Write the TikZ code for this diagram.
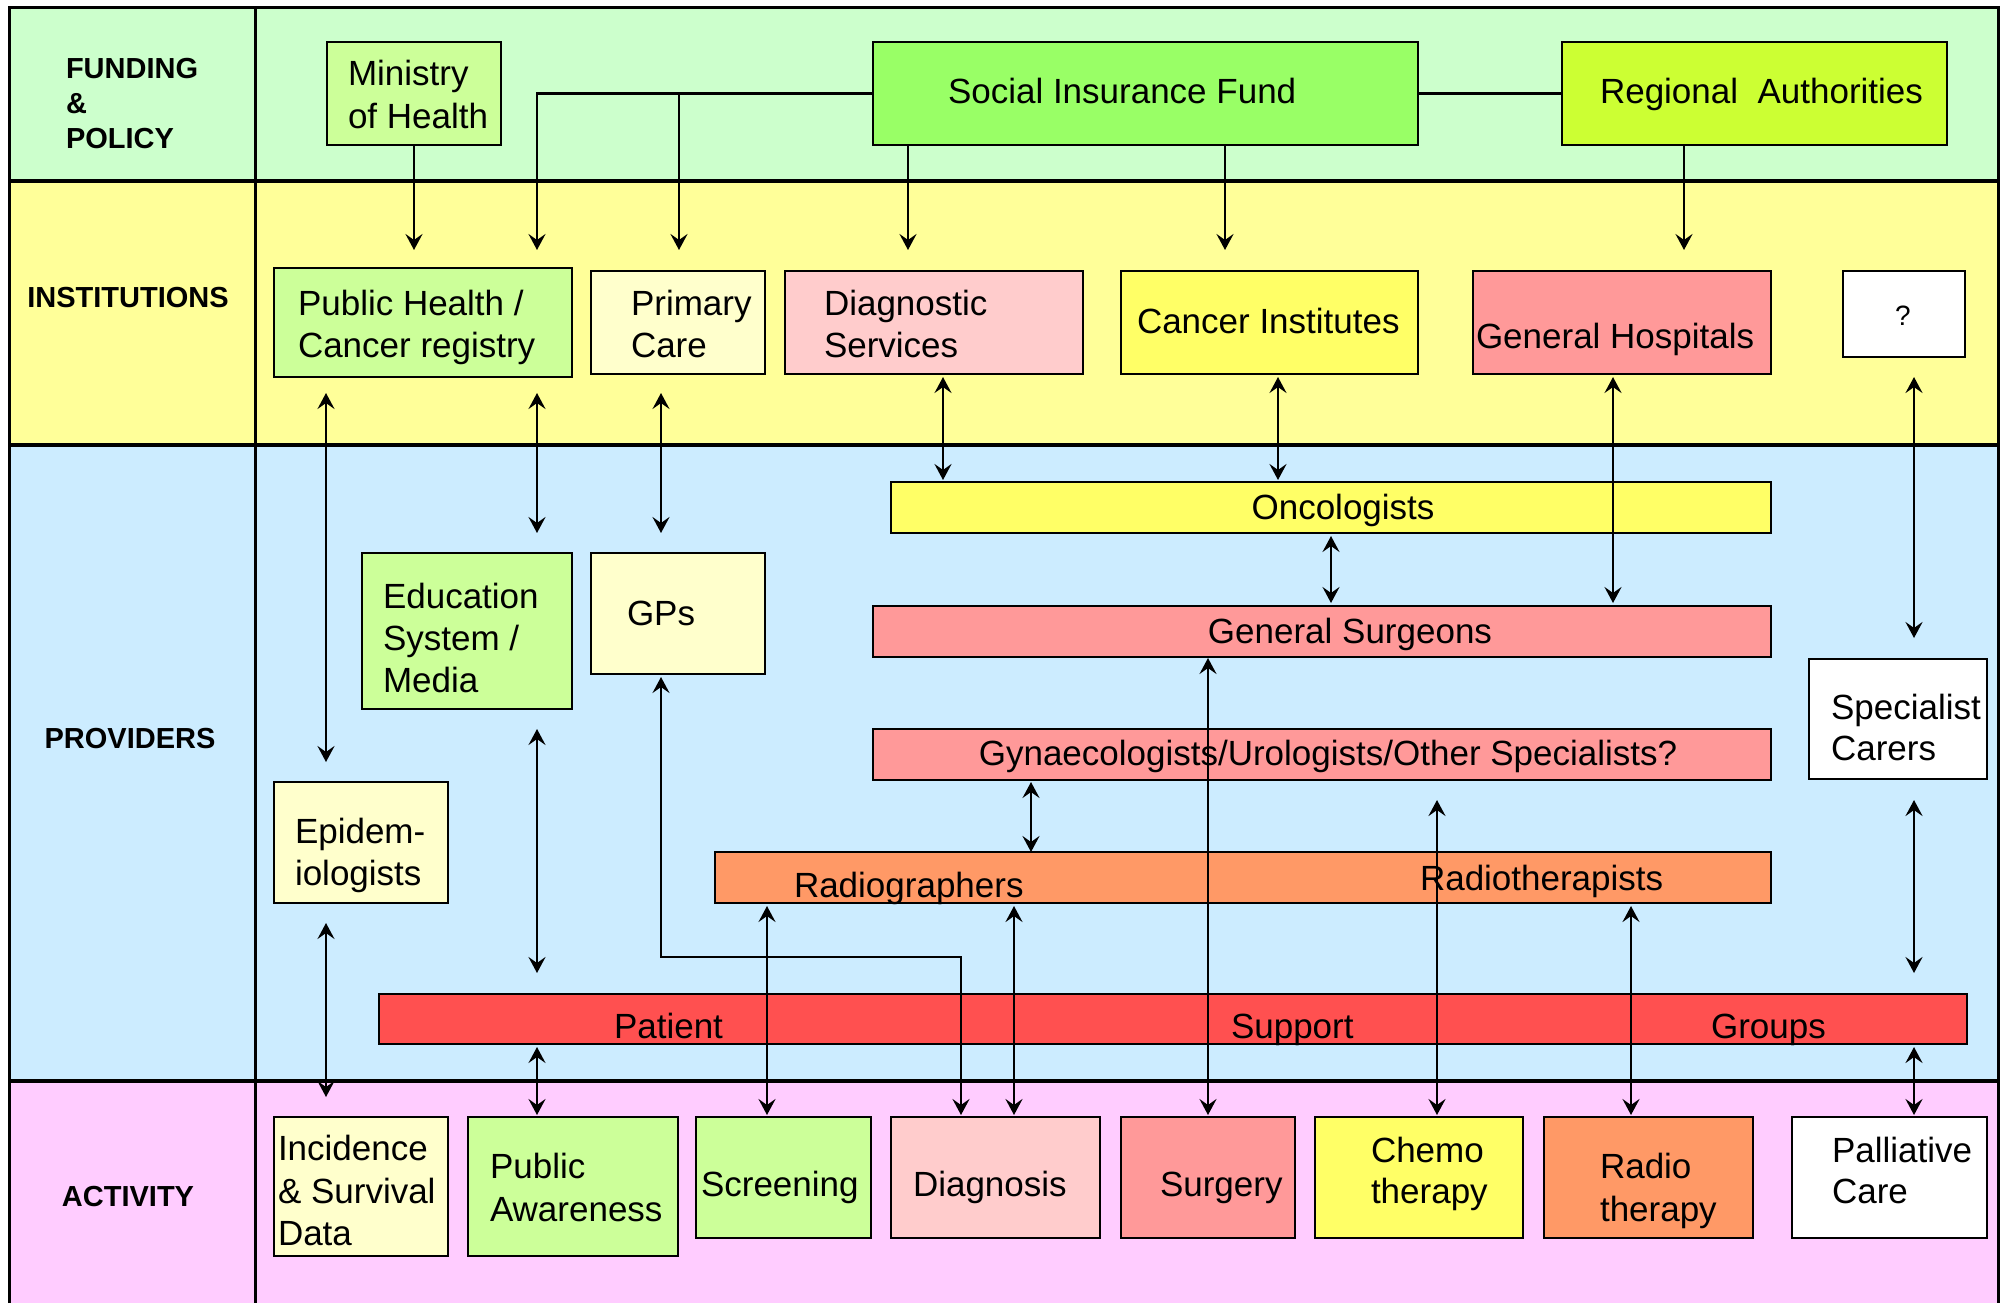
\documentclass[tikz,border=0pt]{standalone}
\usepackage{fontspec}
\setmainfont{Liberation Sans}
\usetikzlibrary{arrows.meta,calc}

\definecolor{bandFund}{HTML}{CCFFCC}
\definecolor{bandInst}{HTML}{FFFF99}
\definecolor{bandProv}{HTML}{CCECFF}
\definecolor{bandAct}{HTML}{FFCCFF}
\definecolor{paleGreen}{HTML}{CCFF99}
\definecolor{fundGreen}{HTML}{99FF66}
\definecolor{limeGreen}{HTML}{CCFF33}
\definecolor{cream}{HTML}{FFFFCC}
\definecolor{pink}{HTML}{FFCCCC}
\definecolor{lemon}{HTML}{FFFF66}
\definecolor{salmon}{HTML}{FF9999}
\definecolor{orange}{HTML}{FF9966}
\definecolor{redbar}{HTML}{FF5050}

% box from corner coordinates (x1,y1)-(x2,y2), in picture units
\newcommand\mkbox[6]{%
  \pgfmathsetmacro\boxw{(#4-#2)*0.5}%
  \pgfmathsetmacro\boxh{(#5-#3)*0.5}%
  \node[box,fill=#6,minimum width=\boxw pt,minimum height=\boxh pt] (#1) at ({(#2+#4)/2},{(#3+#5)/2}) {};}
% one line of text, left end of its baseline at (x,y)
\newcommand\putline[4]{\node[txt] (#1) at (#2,#3) {#4};}

\begin{document}
\begin{tikzpicture}[x=0.5pt,y=-0.5pt,
  box/.style={draw=black,line width=1.3pt,rectangle,inner sep=0pt,outer sep=0pt},
  txt/.style={inner sep=0pt,outer sep=0pt,font=\fontsize{17.5}{21}\selectfont,anchor=base west},
  head/.style={inner sep=0pt,outer sep=0pt,font=\fontsize{14.5}{17}\selectfont\bfseries},
  link/.style={line width=1.35pt},
  tip/.tip={Stealth[length=8pt,width=8.5pt,inset=3pt]},
  one/.style={link,-tip},
  both/.style={link,tip-tip}]

\useasboundingbox (0,0) rectangle (2007,1303);

% ---- bands ----
\fill[bandFund] (9,7) rectangle (1998,181);
\fill[bandInst] (9,181) rectangle (1998,445);
\fill[bandProv] (9,445) rectangle (1998,1081);
\fill[bandAct] (9,1081) rectangle (1998,1303);
\draw[line width=1.5pt] (9,1303) -- (9,7) -- (1998,7) -- (1998,1303);
\draw[line width=1.5pt] (255,7) -- (255,1303);
\draw[line width=2.4pt] (9,181) -- (1998,181);
\draw[line width=2.4pt] (9,445) -- (1998,445);
\draw[line width=2.4pt] (9,1081) -- (1998,1081);

% ---- band titles ----
\node[head,anchor=base west] (h-fund1) at (66,78) {FUNDING};
\node[head,anchor=base west] (h-fund2) at (66,113) {\&};
\node[head,anchor=base west] (h-fund3) at (66,148) {POLICY};
\node[head,anchor=base] (h-inst) at (128,307) {INSTITUTIONS};
\node[head,anchor=base] (h-prov) at (130,748) {PROVIDERS};
\node[head,anchor=base] (h-act) at (128,1206) {ACTIVITY};

% ---- funding & policy ----
\mkbox{ministry}{327}{42}{501}{145}{paleGreen}
\mkbox{sif}{873}{42}{1418}{145}{fundGreen}
\mkbox{regional}{1562}{42}{1947}{145}{limeGreen}

% ---- institutions ----
\mkbox{pubhealth}{274}{268}{572}{377}{paleGreen}
\mkbox{primary}{591}{271}{765}{374}{cream}
\mkbox{diagserv}{785}{271}{1083}{374}{pink}
\mkbox{cancerinst}{1121}{271}{1418}{374}{lemon}
\mkbox{genhosp}{1473}{271}{1771}{374}{salmon}
\mkbox{unknown}{1843}{271}{1965}{357}{white}

% ---- providers ----
\mkbox{oncol}{891}{482}{1771}{533}{lemon}
\mkbox{gensurg}{873}{606}{1771}{657}{salmon}
\mkbox{gynae}{873}{729}{1771}{780}{salmon}
\mkbox{radio}{715}{852}{1771}{903}{orange}
\mkbox{patient}{379}{994}{1967}{1044}{redbar}
\mkbox{educ}{362}{553}{572}{709}{paleGreen}
\mkbox{gps}{591}{553}{765}{674}{cream}
\mkbox{epidem}{274}{782}{448}{903}{cream}
\mkbox{specialist}{1809}{659}{1987}{779}{white}

% ---- activity ----
\mkbox{incidence}{274}{1117}{448}{1256}{cream}
\mkbox{awareness}{468}{1117}{678}{1256}{paleGreen}
\mkbox{screening}{696}{1117}{871}{1238}{paleGreen}
\mkbox{diagnosis}{891}{1117}{1100}{1238}{pink}
\mkbox{surgery}{1121}{1117}{1295}{1238}{salmon}
\mkbox{chemo}{1315}{1117}{1523}{1238}{lemon}
\mkbox{radiother}{1544}{1117}{1753}{1238}{orange}
\mkbox{palliative}{1792}{1117}{1987}{1238}{white}

% ---- box texts ----
\putline{t-min1}{348}{85}{Ministry}
\putline{t-min2}{348}{128}{of Health}
\putline{t-sif}{948}{103}{Social Insurance Fund}
\putline{t-reg}{1600}{103}{Regional\ \ Authorities}

\putline{t-ph1}{298}{315}{Public Health /}
\putline{t-ph2}{298}{357}{Cancer registry}
\putline{t-pc1}{631}{315}{Primary}
\putline{t-pc2}{631}{357}{Care}
\putline{t-ds1}{824}{315}{Diagnostic}
\putline{t-ds2}{824}{357}{Services}
\putline{t-ci}{1137}{333}{Cancer Institutes}
\putline{t-gh}{1476}{348}{General Hospitals}
\node[inner sep=0pt,font=\fontsize{14}{17}\selectfont,anchor=base] (t-q) at (1903,325) {?};

\node[txt,anchor=base] (t-onc) at (1343,519) {Oncologists};
\node[txt,anchor=base] (t-gs) at (1350,643) {General Surgeons};
\node[txt,anchor=base] (t-gy) at (1328,765) {Gynaecologists/Urologists/Other Specialists?};
\putline{t-rg}{794}{897}{Radiographers}
\putline{t-rt}{1420}{890}{Radiotherapists}
\putline{t-pa}{614}{1038}{Patient}
\putline{t-su}{1231}{1038}{Support}
\putline{t-gr}{1711}{1038}{Groups}
\putline{t-ed1}{383}{608}{Education}
\putline{t-ed2}{383}{650}{System /}
\putline{t-ed3}{383}{692}{Media}
\putline{t-gp}{627}{625}{GPs}
\putline{t-ep1}{295}{843}{Epidem-}
\putline{t-ep2}{295}{885}{iologists}
\putline{t-sc1}{1831}{719}{Specialist}
\putline{t-sc2}{1831}{760}{Carers}

\putline{t-in1}{278}{1160}{Incidence}
\putline{t-in2}{278}{1203}{\& Survival}
\putline{t-in3}{278}{1245}{Data}
\putline{t-aw1}{490}{1178}{Public}
\putline{t-aw2}{490}{1221}{Awareness}
\putline{t-scr}{701}{1196}{Screening}
\putline{t-dg}{913}{1196}{Diagnosis}
\putline{t-sg}{1160}{1196}{Surgery}
\putline{t-ch1}{1371}{1162}{Chemo}
\putline{t-ch2}{1371}{1203}{therapy}
\putline{t-rd1}{1600}{1178}{Radio}
\putline{t-rd2}{1600}{1221}{therapy}
\putline{t-pl1}{1832}{1162}{Palliative}
\putline{t-pl2}{1832}{1203}{Care}

% ---- connector columns and rows ----
\coordinate (cA) at (326,0);  \coordinate (cC) at (537,0);  \coordinate (cD) at (661,0);
\coordinate (cE) at (679,0);  \coordinate (cF) at (767,0);  \coordinate (cG) at (908,0);
\coordinate (cH) at (943,0);  \coordinate (cI) at (961,0);  \coordinate (cJ) at (1014,0);
\coordinate (cK) at (1031,0); \coordinate (cL) at (1208,0); \coordinate (cM) at (1225,0);
\coordinate (cN) at (1278,0); \coordinate (cO) at (1331,0); \coordinate (cP) at (1437,0);
\coordinate (cQ) at (1613,0); \coordinate (cR) at (1631,0); \coordinate (cS) at (1684,0);
\coordinate (cT) at (1914,0);

\coordinate (rInstIn) at (0,250);   \coordinate (rInstOutA) at (0,393);
\coordinate (rInstOutB) at (0,377); \coordinate (rEduIn) at (0,533);
\coordinate (rOncIn) at (0,480);    \coordinate (rSurgIn) at (0,603);
\coordinate (rSpecIn) at (0,638);   \coordinate (rEpiIn) at (0,762);
\coordinate (rOncOut) at (0,536);   \coordinate (rGynOut) at (0,782);
\coordinate (rSurgOut) at (0,658);  \coordinate (rLowOut) at (0,800);
\coordinate (rRadOut) at (0,906);   \coordinate (rPatIn) at (0,973);
\coordinate (rPatOut) at (0,1047);  \coordinate (rActIn) at (0,1115);
\coordinate (rEduOut) at (0,729);   \coordinate (rEpiOut) at (0,923);
\coordinate (rIncIn) at (0,1097);   \coordinate (rGpOut) at (0,677);
\coordinate (rGpRun) at (0,957);

% ---- funding to institutions ----
\draw[one] (sif.west) -| (cC |- rInstIn);
\draw[one] (cE |- sif.west) -- (cE |- rInstIn);
\draw[one] (ministry.south) -- (ministry.south |- rInstIn);
\draw[one] (cG |- sif.south) -- (cG |- rInstIn);
\draw[one] (cM |- sif.south) -- (cM |- rInstIn);
\draw[link] (sif.east) -- (regional.west);
\draw[one] (cS |- regional.south) -- (cS |- rInstIn);

% ---- institutions to providers ----
\draw[both] (cA |- rInstOutA) -- (cA |- rEpiIn);
\draw[both] (cC |- rInstOutA) -- (cC |- rEduIn);
\draw[both] (cD |- rInstOutA) -- (cD |- rEduIn);
\draw[both] (cH |- rInstOutB) -- (cH |- rOncIn);
\draw[both] (cN |- rInstOutB) -- (cN |- rOncIn);
\draw[both] (cQ |- rInstOutB) -- (cQ |- rSurgIn);
\draw[both] (cT |- rInstOutB) -- (cT |- rSpecIn);

% ---- among providers and to activities ----
\draw[both] (cO |- rOncOut) -- (cO |- rSurgIn);
\draw[both] (cK |- rGynOut) -- (cK |- radio.north);
\draw[both] (cL |- rSurgOut) -- (cL |- rActIn);
\draw[both] (cP |- rLowOut) -- (cP |- rActIn);
\draw[both] (cR |- rRadOut) -- (cR |- rActIn);
\draw[both] (cF |- rRadOut) -- (cF |- rActIn);
\draw[both] (cJ |- rRadOut) -- (cJ |- rActIn);
\draw[both] (cT |- rLowOut) -- (cT |- rPatIn);
\draw[both] (cT |- rPatOut) -- (cT |- rActIn);
\draw[both] (cC |- rEduOut) -- (cC |- rPatIn);
\draw[both] (cC |- rPatOut) -- (cC |- rActIn);
\draw[both] (cA |- rEpiOut) -- (cA |- rIncIn);
\draw[both] (cD |- rGpOut) -- (cD |- rGpRun) -| (cI |- rActIn);

\end{tikzpicture}
\end{document}
